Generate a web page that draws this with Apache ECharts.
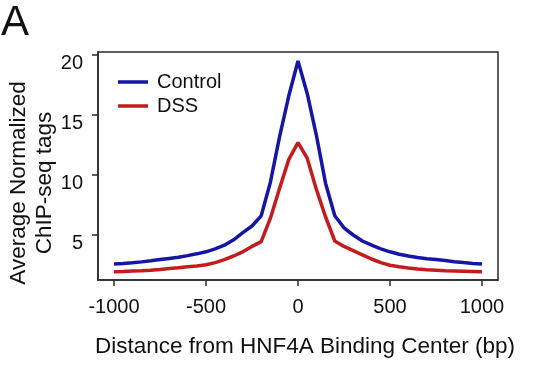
<!DOCTYPE html>
<html>
<head>
<meta charset="utf-8">
<script src="https://cdn.jsdelivr.net/npm/echarts@6/dist/echarts.min.js"></script>
<style>html,body{margin:0;padding:0;background:#fff;}#chart{width:540px;height:385px;}</style>
</head>
<body>
<div id="chart"></div>
<script>
// Distance from binding center (bp)
var distances = [-1000,-950,-900,-850,-800,-750,-700,-650,-600,-550,-500,-450,-400,-350,-300,-250,-200,-150,-100,-50,0,
                 50,100,150,200,250,300,350,400,450,500,550,600,650,700,750,800,850,900,950,1000];
var controlValues = [2.58,2.62,2.68,2.76,2.85,2.95,3.05,3.15,3.28,3.43,3.6,3.85,4.15,4.6,5.2,5.75,6.6,9.4,13.2,16.6,19.5,
                     16.8,13.3,9.3,6.6,5.6,5.0,4.5,4.15,3.85,3.6,3.4,3.25,3.12,3.03,2.95,2.87,2.78,2.7,2.63,2.58];
var dssValues = [1.94,1.96,1.99,2.02,2.07,2.13,2.2,2.27,2.35,2.42,2.52,2.7,2.95,3.25,3.6,4.05,4.45,6.4,8.9,11.3,12.7,
                 11.4,8.8,6.5,4.5,4.05,3.7,3.35,3.0,2.7,2.48,2.35,2.25,2.16,2.1,2.06,2.02,2.0,1.98,1.96,1.94];
var xTicks = [-1000,-500,0,500,1000];
var yTicks = [5,10,15,20];
var seriesNames = ['Control','DSS'];
var xTitle = 'Distance from HNF4A Binding Center (bp)';
var yTitle = 'Average Normalized\nChIP-seq tags';
var panelLabel = 'A';

function pairs(xs, ys){ return xs.map(function(x,i){ return [x, ys[i]]; }); }

var FONT = '"Liberation Sans", Arial, Helvetica, sans-serif';
var chart = echarts.init(document.getElementById('chart'), null, {renderer:'canvas'});
chart.setOption({
  backgroundColor:'#ffffff',
  animation:false,
  textStyle:{fontFamily:FONT},
  grid:{left:98, right:42, top:52, bottom:105, show:true, borderColor:'#2a2a2a', borderWidth:1.5, backgroundColor:'transparent'},
  legend:{
    orient:'vertical', left:113, top:67, itemWidth:30, itemHeight:3.5, itemGap:4,
    icon:'rect',
    textStyle:{fontSize:20, color:'#111', fontFamily:FONT, padding:[0,0,0,4]},
    data:seriesNames
  },
  xAxis:{
    type:'value', min:-1087, max:1087,
    axisLine:{show:true, onZero:false, lineStyle:{color:'#2a2a2a', width:1.5}},
    axisTick:{show:true, length:6, inside:false, customValues:xTicks, lineStyle:{color:'#2a2a2a', width:1.5}},
    axisLabel:{customValues:xTicks, fontSize:20, color:'#111', margin:17, fontFamily:FONT,
               formatter:function(v){ return String(v); }},
    splitLine:{show:false},
    name:xTitle, nameLocation:'middle', nameGap:55,
    nameTextStyle:{fontSize:22.5, color:'#111', fontFamily:FONT, padding:[0,0,0,14]}
  },
  yAxis:{
    type:'value', min:1.25, max:20.25,
    axisLine:{show:true, onZero:false, lineStyle:{color:'#2a2a2a', width:1.5}},
    axisTick:{show:true, length:6, inside:false, customValues:yTicks, lineStyle:{color:'#2a2a2a', width:1.5}},
    axisLabel:{customValues:yTicks, fontSize:20, color:'#111', margin:15, fontFamily:FONT,
               verticalAlign:'top', lineHeight:16,
               formatter:function(v){ return String(v); }},
    splitLine:{show:false}
  },
  graphic:[
    {type:'text', left:1, top:2, style:{text:panelLabel, fontSize:42, fill:'#111', fontFamily:FONT}},
    {type:'text', x:32, y:183, rotation:Math.PI/2,
     style:{text:yTitle, fontSize:22.5, lineHeight:26.5, fill:'#111', fontFamily:FONT, align:'center', verticalAlign:'middle'}}
  ],
  series:[
    {name:seriesNames[0], type:'line', data:pairs(distances, controlValues), showSymbol:false, symbol:'none',
     lineStyle:{color:'#1616a6', width:3.5}, itemStyle:{color:'#1616a6'}},
    {name:seriesNames[1], type:'line', data:pairs(distances, dssValues), showSymbol:false, symbol:'none',
     lineStyle:{color:'#c41c1c', width:3.5}, itemStyle:{color:'#c41c1c'}}
  ]
});
</script>
</body>
</html>
